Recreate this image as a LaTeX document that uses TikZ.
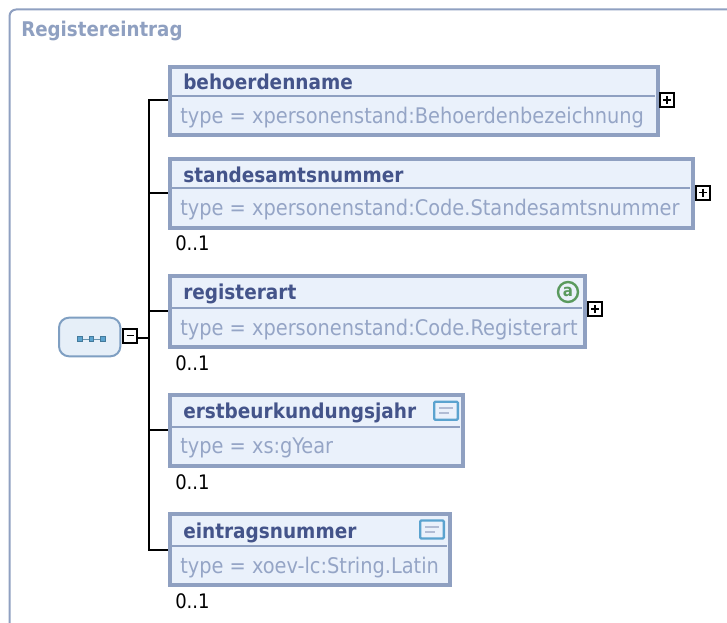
\documentclass[tikz,border=0pt]{standalone}
\usepackage{fontspec}
\setmainfont{DejaVu Sans Condensed}[BoldFont={DejaVu Sans Condensed Bold}]
\definecolor{frameblue}{HTML}{8FA0C1}
\definecolor{fillblue}{HTML}{EAF1FB}
\definecolor{titleblue}{HTML}{44548A}
\definecolor{typegray}{HTML}{95A5C6}
\definecolor{rootfill}{HTML}{E6EFF8}
\definecolor{rootline}{HTML}{7F9FC2}
\definecolor{iconblue}{HTML}{5BA3CF}
\definecolor{icongreen}{HTML}{5A9A5E}
\tikzset{
  x=0.75pt,y=-0.75pt,
  elembox/.style={draw=frameblue,fill=fillblue,line width=3pt,inner sep=0pt,rectangle},
  titletext/.style={anchor=base west,inner sep=0pt,text=titleblue,font=\fontsize{15.4pt}{18pt}\selectfont\bfseries},
  typetext/.style={anchor=base west,inner sep=0pt,text=typegray,font=\fontsize{16.15pt}{20pt}\selectfont},
  occtext/.style={anchor=base west,inner sep=0pt,text=black,font=\fontsize{15pt}{18pt}\selectfont},
  conn/.style={draw=black,line width=1.5pt},
  togglebox/.style={draw=black,fill=white,line width=1.6pt,inner sep=0pt,minimum size=10.4pt,rectangle},
  sepline/.style={draw=frameblue,line width=1.3pt},
  docicon/.style={draw=iconblue,fill=fillblue,line width=1.7pt,inner sep=0pt,rectangle,rounded corners=0.8pt,minimum width=17.8pt,minimum height=13.5pt},
}
% id, x1, y1, x2, y2, separator y
\newcommand{\elem}[6]{%
  \node[elembox,minimum width={(#4-#2-4)*0.75pt},minimum height={(#5-#3-4)*0.75pt}] (#1) at ({(#2+#4)/2},{(#3+#5)/2}) {};
  \draw[sepline] (#2+3,#6) -- (#4-5,#6);
}
\begin{document}
\begin{tikzpicture}
\useasboundingbox (0,0) rectangle (727,623);
\fill[white] (0,0) rectangle (727,623);
% outer frame
\draw[frameblue,line width=1.5pt,rounded corners=5pt] (9.5,623) -- (9.5,9.5) -- (727,9.5);
\node[anchor=base west,inner sep=0pt,text=frameblue,font=\fontsize{15.2pt}{18pt}\selectfont\bfseries] (frametitle) at (21,36.7) {Registereintrag};

% elements
\elem{behoerde}{168}{65}{660}{137}{96}
\elem{standes}{168}{157}{695}{230}{188}
\elem{regart}{168}{274}{587}{349}{308}
\elem{erst}{168}{393}{465}{468}{427}
\elem{eintrag}{168}{512}{452}{587}{546}

\node[titletext] (t1) at (183,90) {behoerdenname};
\node[typetext] (y1) at (180,124) {type = xpersonenstand:Behoerdenbezeichnung};
\node[titletext] (t2) at (183,183) {standesamtsnummer};
\node[typetext] (y2) at (180,216) {type = xpersonenstand:Code.Standesamtsnummer};
\node[titletext] (t3) at (183,300) {registerart};
\node[typetext] (y3) at (180,335) {type = xpersonenstand:Code.Registerart};
\node[titletext] (t4) at (183,418.5) {erstbeurkundungsjahr};
\node[typetext] (y4) at (180,453) {type = xs:gYear};
\node[titletext] (t5) at (183,538) {eintragsnummer};
\node[typetext] (y5) at (180,573) {type = xoev-lc:String.Latin};

\node[occtext] (o2) at (175,251) {0..1};
\node[occtext] (o3) at (175,370) {0..1};
\node[occtext] (o4) at (175,489) {0..1};
\node[occtext] (o5) at (175,608) {0..1};

% root sequence
\node[draw=rootline,fill=rootfill,line width=1.5pt,rounded corners=7.5pt,inner sep=0pt,minimum width=46pt,minimum height=29pt] (root) at (89.7,337) {};
\node[togglebox] (minus) at (130.3,336) {};
\draw[black,line width=1.2pt] (126.5,335.5) -- (134,335.5);
\draw[iconblue!60!gray,line width=0.6pt] (80,339) -- (103,339);
\foreach \n/\px in {d1/80,d2/91.5,d3/103}
  \node[draw=iconblue!75!black,fill=iconblue,inner sep=0pt,minimum size=3.4pt,line width=0.5pt] (\n) at (\px,339) {};

% connectors
\coordinate (sTop) at (148.5,100);
\coordinate (sMid) at (148.5,193);
\coordinate (sMin) at (148.5,338);
\coordinate (sReg) at (148.5,311);
\coordinate (sErs) at (148.5,430);
\coordinate (sBot) at (148.5,549.5);
\draw[conn] (behoerde.west |- sTop) -- (sTop) -- (sBot) -- (eintrag.west |- sBot);
\draw[conn] (sMid) -- (standes.west |- sMid);
\draw[conn] (sReg) -- (regart.west |- sReg);
\draw[conn] (sErs) -- (erst.west |- sErs);
\draw[conn] (minus.east |- sMin) -- (sMin);

% expand toggles
\foreach \n/\px/\py in {p1/667/100,p2/703/192.7,p3/595/309}{
  \node[togglebox] (\n) at (\px,\py) {};
  \draw[black,line width=1.2pt] (\px-4,\py) -- (\px+4,\py) (\px,\py-4) -- (\px,\py+4);
}

% attribute icon
\node[circle,draw=icongreen,line width=1.8pt,fill=fillblue,minimum size=15pt,inner sep=0pt,text=icongreen,font=\fontsize{12.5pt}{12pt}\selectfont\bfseries] (attr) at (568,292) {\raisebox{0.5pt}{a}};

% documentation icons
\foreach \n/\cx/\cy in {doc1/446/410.7,doc2/432/529.5}{
  \node[docicon] (\n) at (\cx,\cy) {};
  \draw[frameblue!70!white,line width=1.2pt] (\cx-7,\cy-2.5) -- (\cx+7,\cy-2.5) (\cx-7,\cy+2.5) -- (\cx+3,\cy+2.5);
}
\end{tikzpicture}
\end{document}
